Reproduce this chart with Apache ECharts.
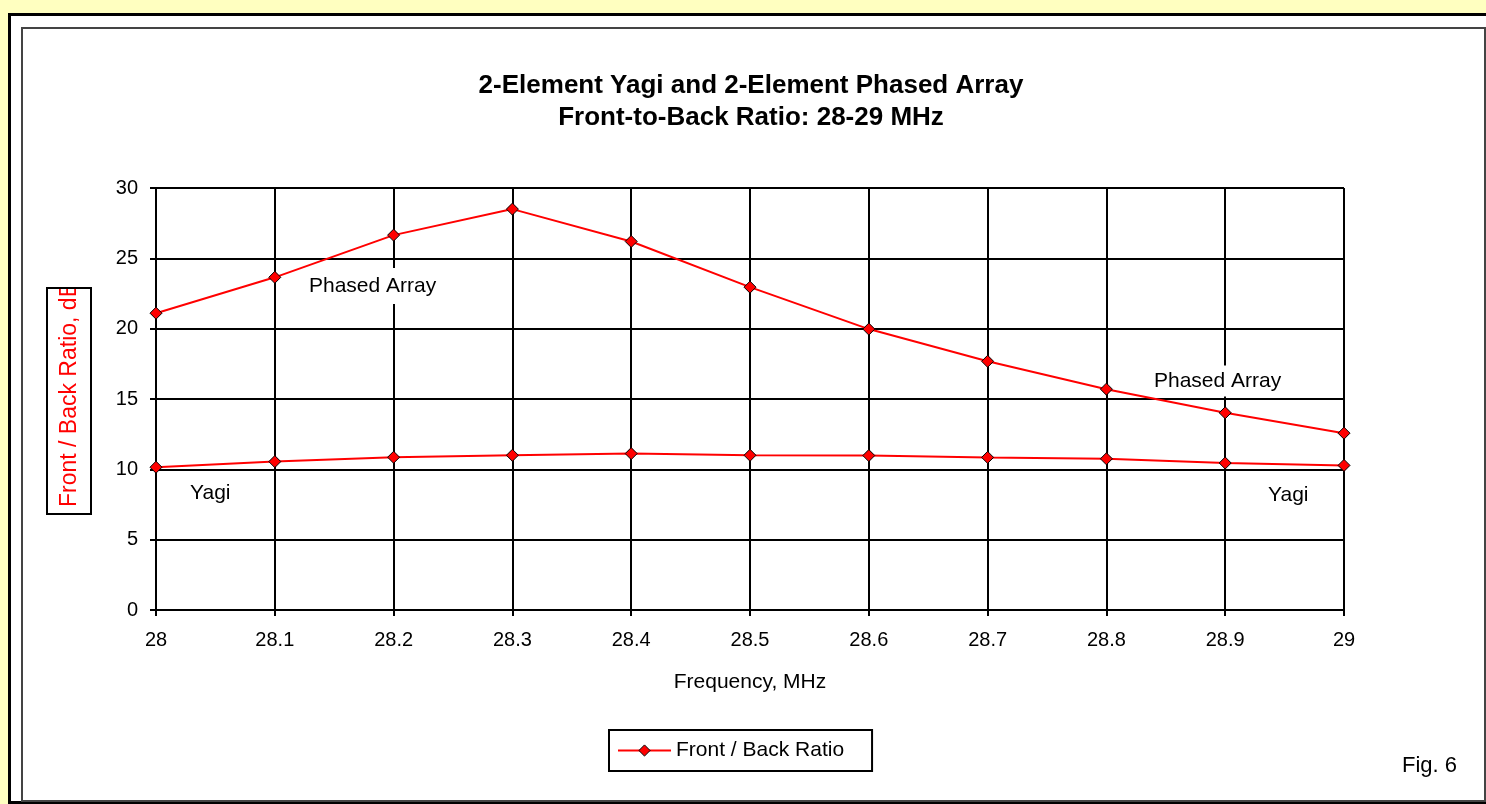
<!DOCTYPE html>
<html>
<head>
<meta charset="utf-8">
<script src="https://cdn.jsdelivr.net/npm/echarts@6/dist/echarts.min.js"></script>
<style>
  html, body { margin: 0; padding: 0; width: 1486px; height: 804px; overflow: hidden; background: #FFFFC0; }
  #outer { position: absolute; left: 8px; top: 13px; width: 1500px; height: 785px;
           border-left: 3px solid #000; border-top: 3px solid #000; border-bottom: 3px solid #000; background: #fff; }
  #inner { position: absolute; left: 21px; top: 27px; width: 1461px; height: 771px; border: 2px solid #444; }
  #chart { position: absolute; left: 0; top: 0; width: 1486px; height: 804px; }
</style>
</head>
<body>
<div id="outer"></div>
<div id="inner"></div>
<div id="chart"></div>
<script>
// ---- data ----
const categories = ['28', '28.1', '28.2', '28.3', '28.4', '28.5', '28.6', '28.7', '28.8', '28.9', '29'];
const phasedArray = [21.1, 23.65, 26.65, 28.5, 26.2, 22.95, 19.97, 17.68, 15.7, 14.02, 12.57];
const yagi = [10.15, 10.55, 10.86, 11.0, 11.12, 11.0, 10.98, 10.85, 10.75, 10.45, 10.28];
const yMin = 0, yMax = 30, yStep = 5;
const titleText = '2-Element Yagi and 2-Element Phased Array\nFront-to-Back Ratio: 28-29 MHz';
const xName = 'Frequency, MHz';
const yName = 'Front / Back Ratio, dB';
const seriesName = 'Front / Back Ratio';

const FONT = '"Liberation Sans", Arial, sans-serif';
const chart = echarts.init(document.getElementById('chart'), null, { renderer: 'canvas' });

const lineSeries = (data) => ({
  name: seriesName,
  type: 'line',
  data: data,
  symbol: 'diamond',
  symbolSize: 12,
  showAllSymbol: true,
  lineStyle: { color: '#FF0000', width: 2 },
  itemStyle: { color: '#FF0000', borderColor: '#000', borderWidth: 1 },
  z: 3
});

const noteStyle = { font: '21px ' + FONT, fill: '#000', backgroundColor: '#fff', lineHeight: 22 };

chart.setOption({
  animation: false,
  backgroundColor: 'transparent',
  grid: { left: 156, top: 188, right: 142, bottom: 194, containLabel: false },
  legend: {
    data: [{ name: seriesName, itemStyle: { color: '#FF0000', borderColor: '#000', borderWidth: 1 } }],
    left: 609, top: 730,
    padding: [10, 28, 10, 8],
    itemWidth: 53, itemHeight: 14,
    borderColor: '#000', borderWidth: 2,
    textStyle: { fontSize: 21, fontFamily: FONT, color: '#000' },
    selectedMode: false
  },
  xAxis: {
    type: 'category',
    data: categories,
    boundaryGap: false,
    axisLine: { lineStyle: { color: '#000', width: 2 } },
    axisTick: { show: true, length: 6, interval: 0, lineStyle: { color: '#000', width: 2 } },
    axisLabel: { interval: 0, margin: 20, fontSize: 20, fontFamily: FONT, color: '#000' },
    splitLine: { show: true, interval: 0, lineStyle: { color: '#000', width: 2 } }
  },
  yAxis: {
    type: 'value',
    min: yMin, max: yMax, interval: yStep,
    axisLine: { show: true, lineStyle: { color: '#000', width: 2 } },
    axisTick: { show: true, length: 6, lineStyle: { color: '#000', width: 2 } },
    axisLabel: { margin: 18, fontSize: 20, fontFamily: FONT, color: '#000' },
    splitLine: { show: true, lineStyle: { color: '#000', width: 2 } }
  },
  series: [lineSeries(phasedArray), lineSeries(yagi)],
  graphic: [
    { type: 'text', z: 10, style: { text: titleText, x: 751, y: 102, align: 'center', verticalAlign: 'middle',
        font: 'bold 26px ' + FONT, fill: '#000', lineHeight: 32 } },
    { type: 'text', z: 10, style: { text: xName, x: 750, y: 682, align: 'center', verticalAlign: 'middle',
        font: '21px ' + FONT, fill: '#000' } },
    { type: 'text', z: 10, x: 70, y: 507, rotation: Math.PI / 2,
      style: { text: yName, x: 0, y: 0, align: 'left', verticalAlign: 'middle', font: '23px ' + FONT, fill: '#FF0000' } },
    { type: 'rect', z: 11, shape: { x: 40, y: 240, width: 60, height: 47 }, style: { fill: '#fff' } },
    { type: 'rect', z: 12, shape: { x: 47, y: 288, width: 44, height: 226 }, style: { fill: 'none', stroke: '#000', lineWidth: 2 } },
    { type: 'text', z: 1, style: Object.assign({ text: 'Phased Array', x: 305, y: 286, align: 'left', verticalAlign: 'middle', padding: [7, 4] }, noteStyle) },
    { type: 'text', z: 1, style: Object.assign({ text: 'Phased Array', x: 1150, y: 381, align: 'left', verticalAlign: 'middle', padding: [6, 4, 3, 4] }, noteStyle) },
    { type: 'text', z: 1, style: Object.assign({ text: 'Yagi', x: 186, y: 493, align: 'left', verticalAlign: 'middle', padding: [7, 4] }, noteStyle) },
    { type: 'text', z: 1, style: Object.assign({ text: 'Yagi', x: 1264, y: 495, align: 'left', verticalAlign: 'middle', padding: [7, 4] }, noteStyle) },
    { type: 'text', z: 10, style: { text: 'Fig. 6', x: 1402, y: 766, align: 'left', verticalAlign: 'middle',
        font: '22px ' + FONT, fill: '#000' } }
  ]
});
</script>
</body>
</html>
